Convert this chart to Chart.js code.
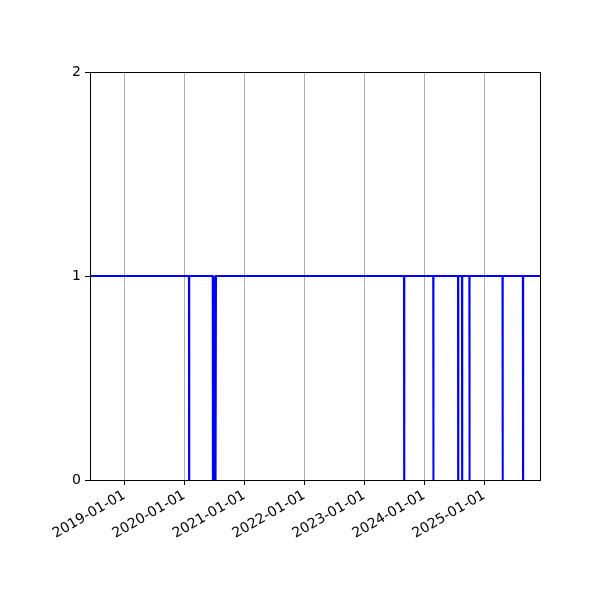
<!DOCTYPE html>
<html>
<head>
<meta charset="utf-8">
<script src="https://cdn.jsdelivr.net/npm/chart.js@4/dist/chart.umd.min.js"></script>
<style>
html,body{margin:0;padding:0;background:#fff;}
canvas{display:block;}
</style>
</head>
<body>
<canvas id="c" width="600" height="600"></canvas>
<script>
// change points of the daily series (value 1 except on the listed days)
const dates = [
  '2018-06-06',
  '2020-01-29','2020-01-30','2020-01-31',
  '2020-06-22','2020-06-23','2020-06-24','2020-06-26','2020-06-27','2020-06-29','2020-06-30',
  '2020-07-02','2020-07-03','2020-07-05','2020-07-06','2020-07-08','2020-07-09','2020-07-11','2020-07-12',
  '2023-08-31','2023-09-01','2023-09-02',
  '2024-02-25','2024-02-26','2024-02-27',
  '2024-07-25','2024-07-26','2024-07-27',
  '2024-08-18','2024-08-19','2024-08-20',
  '2024-10-02','2024-10-03','2024-10-04',
  '2025-04-22','2025-04-23','2025-04-24',
  '2025-08-24','2025-08-25','2025-08-26',
  '2025-12-07'
];
const values = [
  1,
  1,0,1,
  1,0,1,0,1,0,1,
  0,1,0,1,0,1,0,1,
  1,0,1,
  1,0,1,
  1,0,1,
  1,0,1,
  1,0,1,
  1,0,1,
  1,0,1,
  1
];
const tickLabels = ['2019-01-01','2020-01-01','2021-01-01','2022-01-01','2023-01-01','2024-01-01','2025-01-01'];
const yTicks = [0, 1, 2];
const xRange = ['2018-06-06', '2025-12-07'];

const ts = s => Date.parse(s + 'T12:00:00Z');
const pts = dates.map((d, i) => ({x: ts(d), y: values[i]}));

const frame = {
  id: 'frame',
  afterDraw(chart) {
    const a = chart.chartArea, ctx = chart.ctx;
    ctx.save();
    ctx.strokeStyle = '#000';
    ctx.lineWidth = 1;
    ctx.strokeRect(Math.round(a.left) + 0.5, Math.round(a.top) + 0.5, Math.round(a.right - a.left), Math.round(a.bottom - a.top));
    ctx.restore();
  }
};

new Chart(document.getElementById('c'), {
  type: 'line',
  data: {
    datasets: [{
      data: pts,
      borderColor: '#0000ff',
      borderWidth: 2,
      pointRadius: 0,
      tension: 0,
      fill: false
    }]
  },
  options: {
    responsive: false,
    animation: false,
    devicePixelRatio: 1,
    layout: {padding: {left: 0, right: 60, top: 72, bottom: 0}},
    plugins: {legend: {display: false}, tooltip: {enabled: false}},
    scales: {
      x: {
        type: 'linear',
        min: Date.parse(xRange[0] + 'T00:00:00Z'),
        max: Date.parse(xRange[1] + 'T00:00:00Z'),
        afterBuildTicks(scale) {
          scale.ticks = tickLabels.map(t => ({value: Date.parse(t + 'T00:00:00Z')}));
        },
        afterFit(scale) { scale.height = 120; },
        ticks: {
          autoSkip: false,
          minRotation: 30,
          maxRotation: 30,
          padding: 2,
          color: '#000',
          font: {family: 'DejaVu Sans', size: 14},
          callback(v) {
            return new Date(v).toISOString().slice(0, 10);
          }
        },
        grid: {color: '#b0b0b0', lineWidth: 1, tickColor: '#000', tickLength: 5, drawTicks: true},
        border: {display: false}
      },
      y: {
        min: 0,
        max: 2,
        afterBuildTicks(scale) {
          scale.ticks = yTicks.map(v => ({value: v}));
        },
        afterFit(scale) { scale.width = 90; },
        ticks: {
          color: '#000',
          padding: 4,
          font: {family: 'DejaVu Sans', size: 14}
        },
        grid: {drawOnChartArea: false, tickColor: '#000', tickLength: 5},
        border: {display: false}
      }
    }
  },
  plugins: [frame]
});
</script>
</body>
</html>
